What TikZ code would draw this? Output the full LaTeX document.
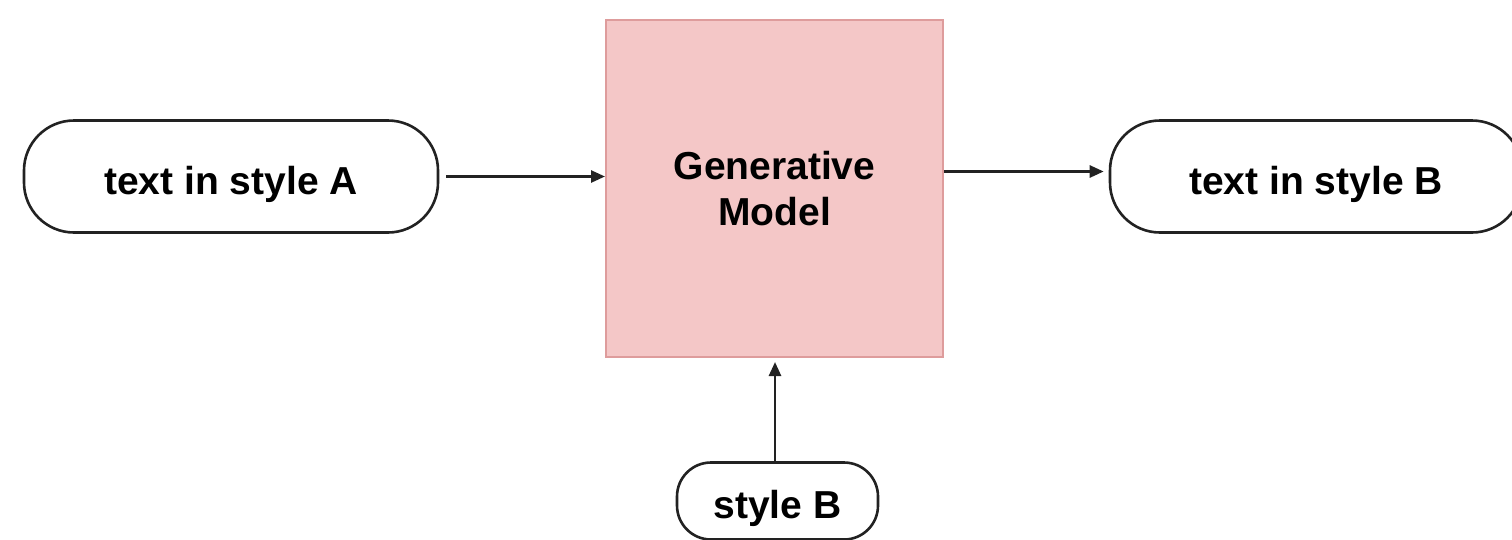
\documentclass[tikz,border=0pt]{standalone}
\usepackage{fontspec}
\setmainfont{Liberation Sans}
\usetikzlibrary{arrows.meta}
\definecolor{modelfill}{HTML}{F4C7C7}
\definecolor{modeledge}{HTML}{DE9C9C}
\definecolor{inkline}{HTML}{222222}
\begin{document}
\begin{tikzpicture}[x=1pt,y=-1pt,
  label font/.style={font=\fontsize{39}{46}\selectfont\bfseries},
  pill/.style={draw=inkline, line width=2.6pt, fill=white, inner sep=0pt, label font,
    text height=35pt, text depth=0pt},
  model/.style={draw=modeledge, fill=modelfill, line width=2pt, inner sep=0pt,
    align=center, label font, minimum width=337pt, minimum height=337pt},
  flow/.style={-{Triangle[length=14pt,width=12pt]}, line width=2.6pt, draw=inkline}]
\useasboundingbox (0,0) rectangle (1512,539);

% generative model block
\node[model] (gm) at (774.5,188.5) {Generative\\Model};

% input, output and conditioning pills
\node[pill, rounded corners=50pt, minimum width=414pt, minimum height=112pt] (a) at (231,176.5) {text in style A};
\node[pill, rounded corners=50pt, minimum width=412pt, minimum height=112pt] (b) at (1316,176.5) {text in style B};
\node[pill, rounded corners=34pt, minimum width=201pt, minimum height=77pt] (s) at (777.5,501) {style B};

% connectors
\draw[flow, shorten <=7pt] (a.east) -- (a.east -| gm.west);
\draw[flow, shorten >=5pt] ([yshift=5pt]b.west -| gm.east) -- ([yshift=5pt]b.west);
\draw[flow, shorten >=4pt] ([xshift=-2.5pt]s.north) -- ([xshift=-2.5pt]s.north |- gm.south);
\end{tikzpicture}
\end{document}
